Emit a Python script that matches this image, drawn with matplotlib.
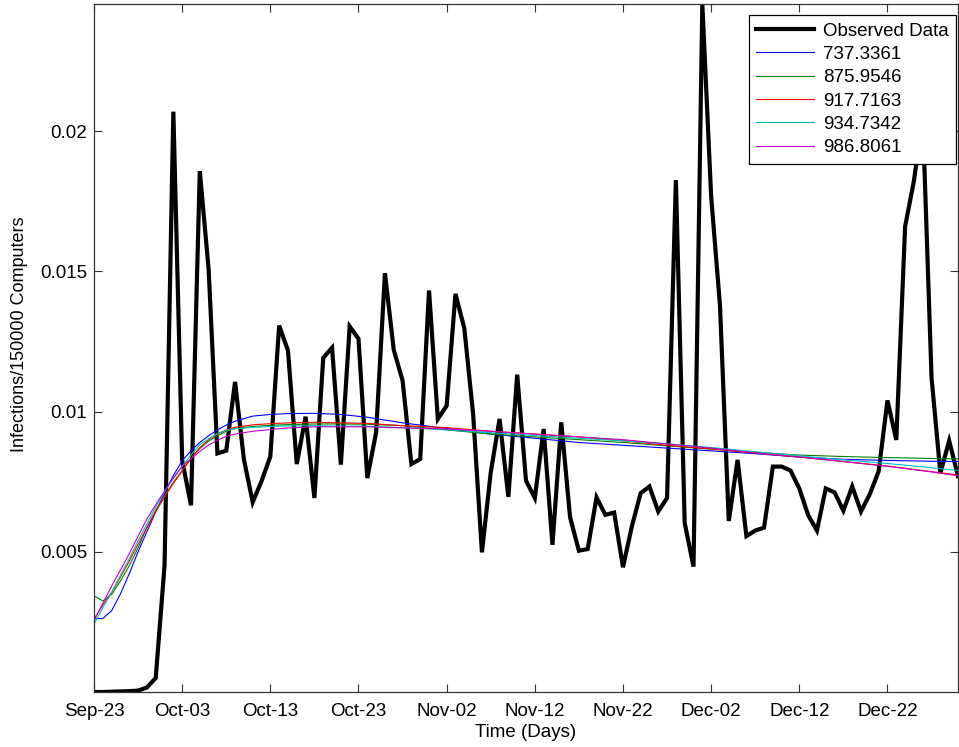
import matplotlib
matplotlib.use("Agg")
import matplotlib.pyplot as plt
import numpy as np

plt.rcParams['font.family'] = ['Liberation Sans', 'DejaVu Sans']

# Observed daily data (day 0 = Sep-23)
observed = [0.0, 0.0, 0.00001, 0.00002, 0.00003, 0.00005, 0.00016, 0.0005, 0.0045, 0.0207,
            0.00827, 0.00666, 0.01858, 0.01508, 0.00851, 0.00861, 0.01106, 0.0083, 0.00677, 0.00752,
            0.0084, 0.01307, 0.01218, 0.00813, 0.00982, 0.00692, 0.01192, 0.01228, 0.00811, 0.01304,
            0.0126, 0.00763, 0.00926, 0.01494, 0.0122, 0.01111, 0.00813, 0.00831, 0.01432, 0.00974,
            0.01021, 0.0142, 0.01298, 0.00992, 0.00498, 0.00783, 0.00974, 0.00696, 0.01132, 0.00754,
            0.00692, 0.00938, 0.00525, 0.00962, 0.00623, 0.00504, 0.0051, 0.00694, 0.00632, 0.0064,
            0.00445, 0.0059, 0.00709, 0.00733, 0.00644, 0.00692, 0.01826, 0.00603, 0.00447, 0.02454,
            0.01768, 0.0138, 0.0061, 0.00828, 0.00556, 0.00576, 0.00586, 0.00804, 0.00804, 0.0079,
            0.00726, 0.00631, 0.00576, 0.00726, 0.00712, 0.00647, 0.00733, 0.00644, 0.00706, 0.00787,
            0.0104, 0.00899, 0.0166, 0.01823, 0.0205, 0.01121, 0.00781, 0.00896, 0.0077]

# Model curves sampled at these days
model_days = [0, 1, 2, 3, 4, 5, 6, 7, 8, 9, 10, 11, 12, 13, 14, 15, 16, 18, 20, 22, 25, 28, 31,
              35, 40, 45, 50, 55, 60, 65, 70, 75, 80, 85, 90, 95, 98]
blue = [0.00262, 0.00262, 0.0029, 0.0035, 0.00422, 0.005, 0.00572, 0.00642, 0.0071, 0.00772,
        0.00825, 0.0086, 0.0089, 0.00914, 0.00935, 0.00952, 0.00966, 0.00984, 0.0099, 0.00993, 0.00994,
        0.0099, 0.0098, 0.0096, 0.0094, 0.0092, 0.00905, 0.0089, 0.0088, 0.0087, 0.0086, 0.0085,
        0.00838, 0.0083, 0.00826, 0.00823, 0.00822]
green = [0.00343, 0.00325, 0.00348, 0.00396, 0.0045, 0.00514, 0.00587, 0.00648, 0.007, 0.00748,
         0.0079, 0.00834, 0.00868, 0.00895, 0.00914, 0.0093, 0.0094, 0.00947, 0.00951, 0.00954, 0.00956,
         0.00956, 0.00955, 0.0095, 0.00935, 0.0092, 0.0091, 0.009, 0.0089, 0.00878, 0.00866, 0.00855,
         0.00845, 0.0084, 0.00836, 0.00833, 0.00831]
red = [0.0026, 0.0031, 0.00355, 0.0041, 0.00467, 0.00527, 0.00587, 0.00643, 0.00696, 0.00744,
       0.00788, 0.00833, 0.00872, 0.009, 0.0092, 0.00935, 0.00944, 0.00953, 0.00957, 0.0096, 0.00962,
       0.0096, 0.00958, 0.0095, 0.00943, 0.0093, 0.0092, 0.0091, 0.00896, 0.0088, 0.00867, 0.00852,
       0.00838, 0.00822, 0.00806, 0.00786, 0.00774]
cyan = [0.00242, 0.003, 0.00356, 0.00416, 0.00475, 0.0054, 0.00599, 0.0066, 0.00714, 0.00762,
        0.00805, 0.00845, 0.00882, 0.00903, 0.00922, 0.00933, 0.00939, 0.00944, 0.00947, 0.00949, 0.0095,
        0.00948, 0.00948, 0.00943, 0.00935, 0.00925, 0.00915, 0.00905, 0.00896, 0.00885, 0.00872,
        0.00857, 0.00842, 0.00828, 0.00815, 0.008, 0.0079]
magenta = [0.00254, 0.00316, 0.00378, 0.00435, 0.00493, 0.00556, 0.00617, 0.00668, 0.00717, 0.00763,
           0.00805, 0.00832, 0.00858, 0.00881, 0.00898, 0.00912, 0.0092, 0.0093, 0.00936, 0.00942, 0.00946,
           0.00946, 0.00946, 0.00942, 0.00938, 0.0093, 0.0092, 0.0091, 0.009, 0.00885, 0.0087, 0.00853,
           0.00838, 0.00822, 0.00805, 0.00785, 0.00771]

labels = ["Observed Data", "737.3361", "875.9546", "917.7163", "934.7342", "986.8061"]
tick_days = [0, 10, 20, 30, 40, 50, 60, 70, 80, 90]
tick_labels = ["Sep-23", "Oct-03", "Oct-13", "Oct-23", "Nov-02", "Nov-12", "Nov-22",
               "Dec-02", "Dec-12", "Dec-22"]
ytick_vals = [0.005, 0.01, 0.015, 0.02]
ytick_labels = ["0.005", "0.01", "0.015", "0.02"]

fig = plt.figure(figsize=(9.59, 7.47), dpi=100)
ax = fig.add_axes([94/959, 55/747, 864/959, 688/747])

days = np.arange(len(observed))
ax.plot(days, observed, color='black', lw=3, label=labels[0], solid_joinstyle='miter')
model_colors = [(0, 0, 1), (0, 0.5, 0), (1, 0, 0), (0, 0.75, 0.75), (0.75, 0, 0.75)]
for series, c, lab in zip([blue, green, red, cyan, magenta], model_colors, labels[1:]):
    ax.plot(model_days, series, color=c, lw=0.8, label=lab)

ax.set_xlim(0, len(observed) - 1)
ax.set_ylim(0, max(observed))
ax.set_xticks(tick_days)
ax.set_xticklabels(tick_labels)
ax.set_yticks(ytick_vals)
ax.set_yticklabels(ytick_labels)
ax.tick_params(direction='in', length=6, width=0.8, top=True, right=True,
               labelsize=13.5, color='#333333')
ax.tick_params(axis='x', pad=8)
ax.tick_params(axis='y', pad=5)
for s in ax.spines.values():
    s.set_color('#333333')
    s.set_linewidth(0.9)

ax.set_xlabel("Time (Days)", fontsize=13.5, labelpad=3)
ax.set_ylabel("Infections/150000 Computers", fontsize=13)
ax.yaxis.set_label_coords(-0.076, 0.52)

leg = ax.legend(loc='upper right', bbox_to_anchor=(0.9977, 0.984), fontsize=13.5,
                frameon=True, fancybox=False, edgecolor='black', framealpha=1,
                handlelength=3.1, handletextpad=0.45, labelspacing=0.33,
                borderpad=0.4, borderaxespad=0.0)
leg.get_frame().set_linewidth(0.9)

fig.savefig("out.png", dpi=100)
